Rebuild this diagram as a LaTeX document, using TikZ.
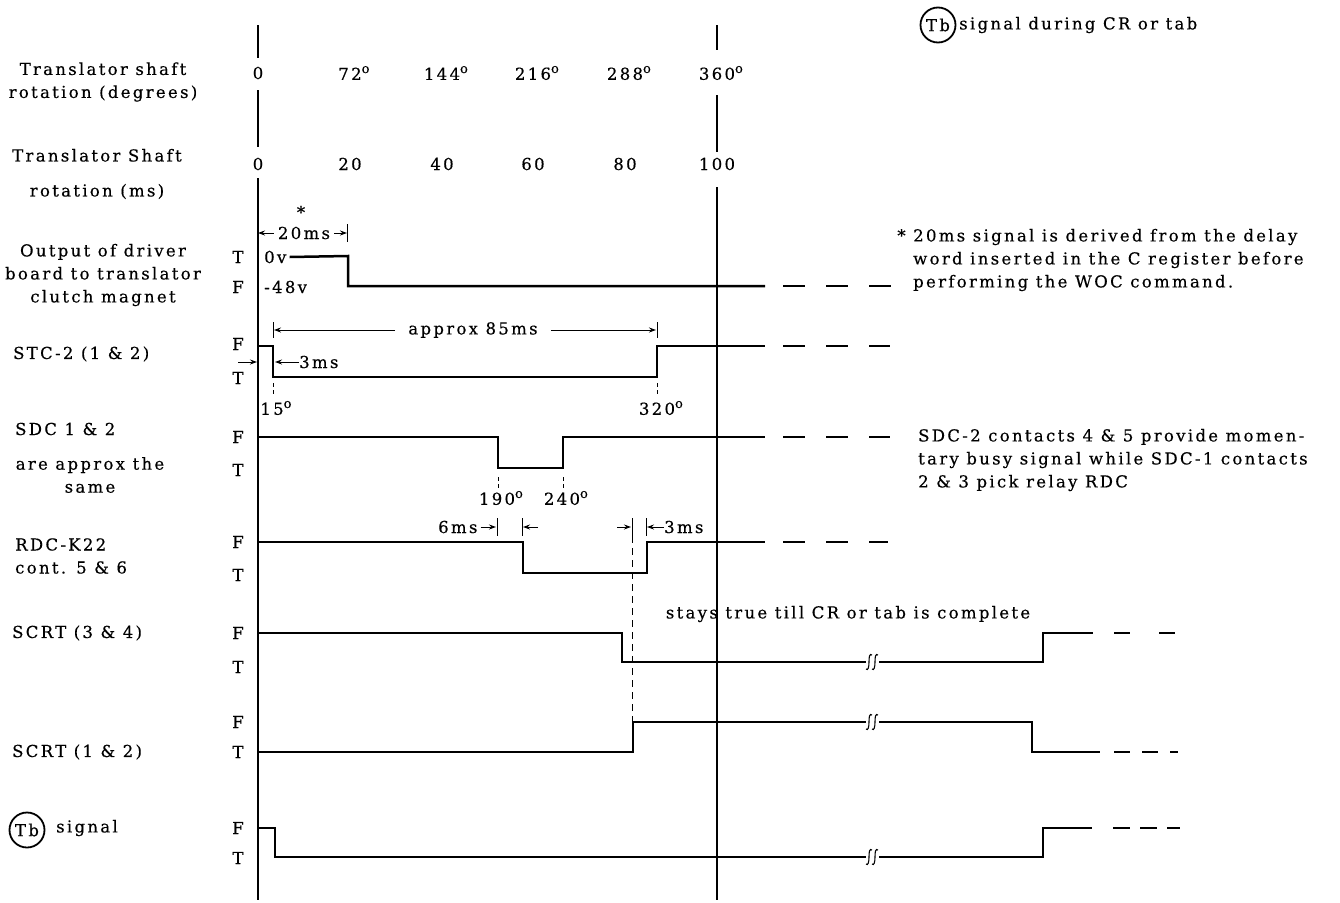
\documentclass[tikz,border=0pt]{standalone}
\usepackage{fontspec}
\setmainfont{DejaVu Serif}[LetterSpace=14, FakeBold=0.4]
\usetikzlibrary{positioning, arrows.meta}
\newcommand{\degr}[1]{#1\rlap{\raisebox{0.8ex}{\fontsize{13}{13}\selectfont o}}}

\begin{document}
\begin{tikzpicture}[x=1pt, y=-1pt,
    every node/.style={font=\fontsize{16.5}{23}\selectfont, inner sep=0pt},
    txt/.style={align=center},
    lefttxt/.style={anchor=west, align=left},
    lvl/.style={anchor=center},
    sig/.style={line width=2.5pt, line join=miter},
    sigtail/.style={line width=1.8pt},
    axisline/.style={line width=1.4pt},
    dimline/.style={line width=1pt},
    dimarrow/.style={dimline, -{Stealth[length=7pt,width=5pt]}},
    markdash/.style={line width=1pt, dash pattern=on 4pt off 3pt},
    tbcircle/.style={draw, circle, line width=1.8pt, minimum size=35pt, inner sep=0pt},
    brk/.pic={
      \fill[white] (-6,-4) rectangle (7,4);
      \draw[line width=1.1pt] (-6,7) .. controls (-4,9) and (-3,5) .. (-3,0) .. controls (-3,-5) and (-2.5,-9) .. (0,-7);
      \draw[line width=1.1pt] (0,7) .. controls (2,9) and (3,5) .. (3,0) .. controls (3,-5) and (3.5,-9) .. (6,-7);
    },
]
\useasboundingbox (0,0) rectangle (1340,902);

% scales
\node[txt] (hdeg) at (103,82) {Translator shaft\\rotation (degrees)};
\node[txt] (hms) at (97,174) {Translator Shaft\\[12pt]rotation (ms)};
\node[txt] (deg0) at (258,73) {0};
\foreach \x/\d in {350/72, 442/144, 533/216, 625/288, 717/360}
  \node[txt] (deg\d) at (\x,73) {\degr{\d}};
\foreach \x/\m in {258/0, 350/20, 442/40, 533/60, 625/80, 717/100}
  \node[txt] (ms\m) at (\x,164) {\m};

\draw[axisline] (258,25) -- (258,58) (258,90) -- (258,147) (258,178) -- (258,900);
\draw[axisline] (717,25) -- (717,50) (717,95) -- (717,152) (717,187) -- (717,900);

% signal names
\node[txt] (lout) at (103,275) {Output of driver\\board to translator\\clutch magnet};
\node[lefttxt] (lstc) at (13,354) {STC-2 (1 \& 2)};
\node[lefttxt] (lsdc) at (15,429) {SDC 1 \& 2};
\node[txt] (lsdcb) at (90,475) {are approx the\\same};
\node[lefttxt] (lrdc) at (15,556) {RDC-K22\\cont. 5 \& 6};
\node[lefttxt] (lscrta) at (12,633) {SCRT (3 \& 4)};
\node[lefttxt] (lscrtb) at (12,752) {SCRT (1 \& 2)};
\node[tbcircle] (tbl) at (27,830) {Tb};
\node[lefttxt] (ltb) at (56,828) {signal};

% F / T levels
\foreach \l/\y in {T/257, F/287, F/344, T/378, F/437, T/470, F/542, T/575, F/633, T/667, F/722, T/752, F/828, T/858}
  \node[lvl] at (238,\y) {\l};
\node[lefttxt] (v0) at (264,257) {0v};
\node[lefttxt] (v48) at (264,287) {-48v};

% waveforms
\draw[sig] (v0.east) ++(3,0) -- (348,256) -- (348,286) -- (765,286);
\draw[sigtail, dash pattern=on 22pt off 21pt] (783,286) -- (892,286);
\draw[sig] (258,346) -- (273,346) -- (273,377) -- (657,377) -- (657,346) -- (765,346);
\draw[sigtail, dash pattern=on 22pt off 21pt] (783,346) -- (890,346);
\draw[sig] (258,437) -- (498,437) -- (498,468) -- (563,468) -- (563,437) -- (765,437);
\draw[sigtail, dash pattern=on 22pt off 21pt] (783,437) -- (890,437);
\draw[sig] (258,542) -- (523,542) -- (523,573) -- (647,573) -- (647,542) -- (765,542);
\draw[sigtail, dash pattern=on 22pt off 21pt] (783,542) -- (888,542);
\draw[sig] (258,633) -- (622,633) -- (622,662) -- (1043,662) -- (1043,633) -- (1093,633);
\draw[sigtail, dash pattern=on 16pt off 29pt] (1114,633) -- (1176,633);
\draw[sig] (258,752) -- (633,752) -- (633,722) -- (1032,722) -- (1032,752) -- (1100,752);
\draw[sigtail, dash pattern=on 16pt off 12pt] (1114,752) -- (1178,752);
\draw[sig] (258,828) -- (275,828) -- (275,857) -- (1043,857) -- (1043,828) -- (1092,828);
\draw[sigtail, dash pattern=on 17pt off 10pt] (1113,828) -- (1180,828);
\foreach \y in {662, 722, 857}
  \pic at (872,\y) {brk};

% 20ms delay
\node[txt] (star) at (301,212) {*};
\coordinate (d20a) at (258,233);
\coordinate (d20b) at (347,233);
\node[txt, inner xsep=4pt] (d20) at (304,233) {20ms};
\draw[dimarrow] (d20.west) -- (d20a);
\draw[dimarrow] (d20.east) -- (d20b);
\draw[dimline] (347,224) -- (347,242);

% STC-2 marks
\coordinate (s85a) at (274,330);
\coordinate (s85b) at (656,330);
\node[txt, inner xsep=13pt] (d85) at (473,330) {approx 85ms};
\draw[dimarrow] (d85.west) -- (s85a);
\draw[dimarrow] (d85.east) -- (s85b);
\draw[dimline] (273,322) -- (273,338) (657,322) -- (657,338);
\coordinate (s3l) at (238,362);
\coordinate (s3a) at (257,362);
\coordinate (s3b) at (275,362);
\draw[dimarrow] (s3l) -- (s3a);
\node[lefttxt] (d3s) at (299,362) {3ms};
\draw[dimarrow] (d3s.west) -- (s3b);
\draw[markdash] (273,383) -- (273,395) (657,383) -- (657,395);
\node[txt] (a15) at (272,408) {\degr{15}};
\node[txt] (a320) at (657,408) {\degr{320}};

% SDC marks
\draw[markdash] (498,477) -- (498,490) (563,477) -- (563,490);
\node[txt] (a190) at (497,498) {\degr{190}};
\node[txt] (a240) at (562,498) {\degr{240}};

% RDC marks
\node[lefttxt] (d6) at (438,527) {6ms};
\coordinate (r6a) at (496,527);
\coordinate (r6b) at (523,527);
\coordinate (r6c) at (538,527);
\draw[dimarrow] (d6.east) ++(3,0) -- (r6a);
\draw[dimarrow] (r6c) -- (r6b);
\draw[dimline] (497,518) -- (497,536) (522,518) -- (522,536);
\coordinate (r3a) at (617,527);
\coordinate (r3b) at (631,527);
\coordinate (r3c) at (647,527);
\node[lefttxt] (d3r) at (664,527) {3ms};
\draw[dimarrow] (r3a) -- (r3b);
\draw[dimarrow] (d3r.west) -- (r3c);
\draw[dimline] (632,518) -- (632,536) (646,518) -- (646,536);
\draw[line width=1pt, dash pattern=on 7pt off 5pt] (632,536) -- (632,722);

% notes
\node[tbcircle] (tbn) at (938,25) {Tb};
\node[lefttxt] (ntb) at (959,25) {signal during CR or tab};
\node[lefttxt] (nstar) at (913,260) {\llap{*\ }20ms signal is derived from the delay\\word inserted in the C register before\\performing the WOC command.};
\node[lefttxt] (nsdc) at (918,460) {SDC-2 contacts 4 \& 5 provide momen-\\tary busy signal while SDC-1 contacts\\2 \& 3 pick relay RDC};
\node[txt] (nstay) at (848,614) {stays true till CR or tab is complete};
\end{tikzpicture}
\end{document}
